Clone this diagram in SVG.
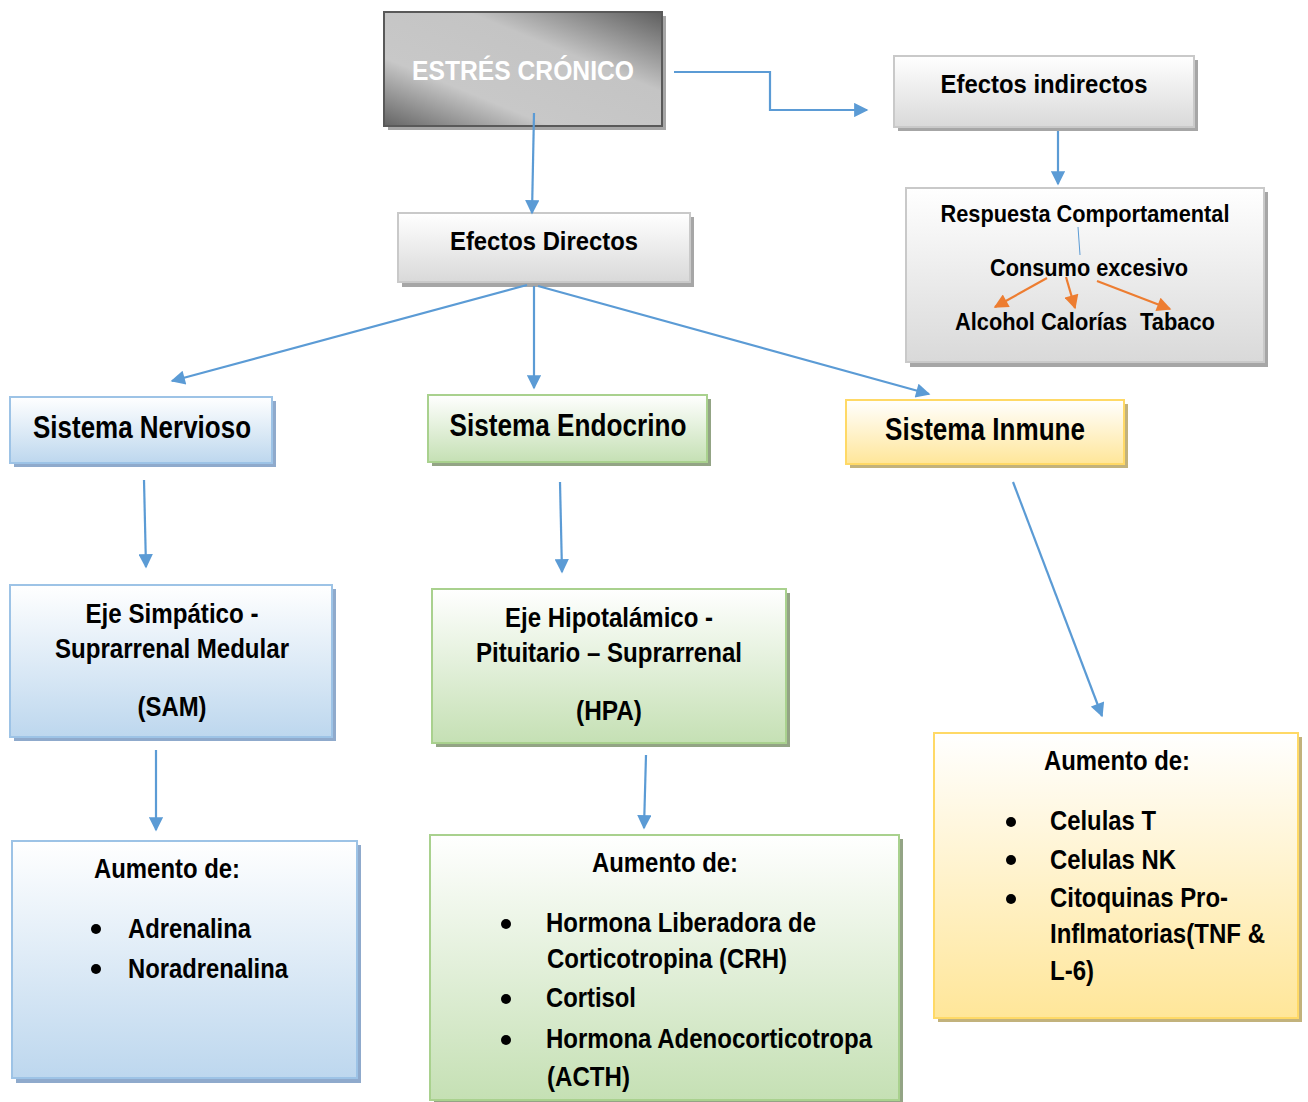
<svg xmlns="http://www.w3.org/2000/svg" width="1308" height="1102" viewBox="0 0 1308 1102">
<defs>
<linearGradient id="gDark" x1="1" y1="0" x2="0" y2="1">
<stop offset="0" stop-color="#5e5e5e"/><stop offset="0.35" stop-color="#c4c4c4"/><stop offset="0.7" stop-color="#c8c8c8"/><stop offset="1" stop-color="#646464"/>
</linearGradient>
<linearGradient id="gGray" x1="0" y1="0" x2="0" y2="1"><stop offset="0" stop-color="#ffffff"/><stop offset="1" stop-color="#d9d9d9"/></linearGradient>
<linearGradient id="gBlue" x1="0" y1="0" x2="0" y2="1"><stop offset="0" stop-color="#ffffff"/><stop offset="1" stop-color="#bdd7ee"/></linearGradient>
<linearGradient id="gGreen" x1="0" y1="0" x2="0" y2="1"><stop offset="0" stop-color="#ffffff"/><stop offset="1" stop-color="#c5e0b4"/></linearGradient>
<linearGradient id="gYellow" x1="0" y1="0" x2="0" y2="1"><stop offset="0" stop-color="#ffffff"/><stop offset="1" stop-color="#ffe699"/></linearGradient>
<marker id="ab" viewBox="0 0 10 10" refX="9" refY="5" markerWidth="7" markerHeight="6.5" orient="auto" markerUnits="strokeWidth"><path d="M0,0 L10,5 L0,10 z" fill="#5b9bd5"/></marker>
<marker id="ao" viewBox="0 0 10 10" refX="9" refY="5" markerWidth="7" markerHeight="6.5" orient="auto" markerUnits="strokeWidth"><path d="M0,0 L10,5 L0,10 z" fill="#ed7d31"/></marker>
<style>
text{font-family:"Liberation Sans","Arial",sans-serif;font-weight:bold;fill:#000}
.c{text-anchor:middle}
.b{stroke-width:2}
.sh{stroke:none}
.conn{fill:none;stroke:#5b9bd5;stroke-width:2.2;marker-end:url(#ab)}
.oc{fill:none;stroke:#ed7d31;stroke-width:2.2;marker-end:url(#ao)}
.t28{font-size:31px}
.t26{font-size:27px}
.t24{font-size:26px}
.t22{font-size:24px}
</style>
</defs>
<rect width="1308" height="1102" fill="#fff"/>

<g id="estres">
<rect x="388" y="16" width="278" height="114" fill="#a6a6a6" class="sh"/>
<rect x="384" y="12" width="278" height="114" fill="url(#gDark)" stroke="#595959" class="b"/>
<text x="523" y="80" class="c t26" style="fill:#fff" textLength="222" lengthAdjust="spacingAndGlyphs">ESTRÉS CRÓNICO</text>
</g>

<g id="indirectos">
<rect x="898" y="60" width="300" height="71" fill="#a6a6a6" class="sh"/>
<rect x="894" y="56" width="300" height="71" fill="url(#gGray)" stroke="#c9c9c9" class="b"/>
<text x="1044" y="93" class="c t24" textLength="207" lengthAdjust="spacingAndGlyphs">Efectos indirectos</text>
</g>

<g id="respuesta">
<rect x="910" y="192" width="358" height="175" fill="#a6a6a6" class="sh"/>
<rect x="906" y="188" width="358" height="174" fill="url(#gGray)" stroke="#c9c9c9" class="b"/>
<text x="1085" y="222" class="c t22" textLength="289" lengthAdjust="spacingAndGlyphs">Respuesta Comportamental</text>
<text x="1089" y="276" class="c t22" textLength="198" lengthAdjust="spacingAndGlyphs">Consumo excesivo</text>
<text x="955" y="330" class="t22" textLength="172" lengthAdjust="spacingAndGlyphs">Alcohol Calorías</text>
<text x="1140" y="330" class="t22" textLength="75" lengthAdjust="spacingAndGlyphs">Tabaco</text>
<line x1="1078" y1="227" x2="1080" y2="255" stroke="#5b9bd5" stroke-width="1"/>
<line x1="1047" y1="278" x2="995" y2="307" class="oc"/>
<line x1="1066" y1="277" x2="1075" y2="308" class="oc"/>
<line x1="1097" y1="281" x2="1170" y2="309" class="oc"/>
</g>

<g id="directos">
<rect x="402" y="217" width="292" height="70" fill="#a6a6a6" class="sh"/>
<rect x="398" y="213" width="292" height="69" fill="url(#gGray)" stroke="#c9c9c9" class="b"/>
<text x="544" y="250" class="c t24" textLength="188" lengthAdjust="spacingAndGlyphs">Efectos Directos</text>
</g>

<g id="nervioso">
<rect x="14" y="401" width="262" height="66" fill="#8faacc" class="sh"/>
<rect x="10" y="397" width="262" height="66" fill="url(#gBlue)" stroke="#9dc3e6" class="b"/>
<text x="142" y="438" class="c t28" textLength="218" lengthAdjust="spacingAndGlyphs">Sistema Nervioso</text>
</g>

<g id="endocrino">
<rect x="432" y="399" width="279" height="67" fill="#93a485" class="sh"/>
<rect x="428" y="395" width="279" height="67" fill="url(#gGreen)" stroke="#a9d18e" class="b"/>
<text x="568" y="436" class="c t28" textLength="237" lengthAdjust="spacingAndGlyphs">Sistema Endocrino</text>
</g>

<g id="inmune">
<rect x="850" y="404" width="278" height="64" fill="#c2b27c" class="sh"/>
<rect x="846" y="400" width="278" height="64" fill="url(#gYellow)" stroke="#ffd966" class="b"/>
<text x="985" y="440" class="c t28" textLength="200" lengthAdjust="spacingAndGlyphs">Sistema Inmune</text>
</g>

<g id="sam">
<rect x="14" y="589" width="322" height="152" fill="#8faacc" class="sh"/>
<rect x="10" y="585" width="322" height="152" fill="url(#gBlue)" stroke="#9dc3e6" class="b"/>
<text x="172" y="623" class="c t26" textLength="173" lengthAdjust="spacingAndGlyphs">Eje Simpático -</text>
<text x="172" y="658" class="c t26" textLength="234" lengthAdjust="spacingAndGlyphs">Suprarrenal Medular</text>
<text x="172" y="716" class="c t26" textLength="69" lengthAdjust="spacingAndGlyphs">(SAM)</text>
</g>

<g id="hpa">
<rect x="436" y="593" width="354" height="154" fill="#93a485" class="sh"/>
<rect x="432" y="589" width="354" height="154" fill="url(#gGreen)" stroke="#a9d18e" class="b"/>
<text x="609" y="627" class="c t26" textLength="208" lengthAdjust="spacingAndGlyphs">Eje Hipotalámico -</text>
<text x="609" y="662" class="c t26" textLength="266" lengthAdjust="spacingAndGlyphs">Pituitario – Suprarrenal</text>
<text x="609" y="720" class="c t26" textLength="66" lengthAdjust="spacingAndGlyphs">(HPA)</text>
</g>

<g id="aumento-sam">
<rect x="16" y="845" width="345" height="238" fill="#8faacc" class="sh"/>
<rect x="12" y="841" width="345" height="237" fill="url(#gBlue)" stroke="#9dc3e6" class="b"/>
<text x="94" y="878" class="t26" textLength="146" lengthAdjust="spacingAndGlyphs">Aumento de:</text>
<circle cx="96" cy="929" r="5"/><text x="128" y="938" class="t26" textLength="123" lengthAdjust="spacingAndGlyphs">Adrenalina</text>
<circle cx="96" cy="969" r="5"/><text x="128" y="978" class="t26" textLength="160" lengthAdjust="spacingAndGlyphs">Noradrenalina</text>
</g>

<g id="aumento-hpa">
<rect x="434" y="839" width="469" height="263" fill="#93a485" class="sh"/>
<rect x="430" y="835" width="469" height="265" fill="url(#gGreen)" stroke="#a9d18e" class="b"/>
<text x="592" y="872" class="t26" textLength="146" lengthAdjust="spacingAndGlyphs">Aumento de:</text>
<circle cx="506" cy="924" r="5"/><text x="546" y="932" class="t26" textLength="270" lengthAdjust="spacingAndGlyphs">Hormona Liberadora de</text>
<text x="547" y="968" class="t26" textLength="240" lengthAdjust="spacingAndGlyphs">Corticotropina (CRH)</text>
<circle cx="506" cy="999" r="5"/><text x="546" y="1007" class="t26" textLength="90" lengthAdjust="spacingAndGlyphs">Cortisol</text>
<circle cx="506" cy="1040" r="5"/><text x="546" y="1048" class="t26" textLength="326" lengthAdjust="spacingAndGlyphs">Hormona Adenocorticotropa</text>
<text x="547" y="1086" class="t26" textLength="83" lengthAdjust="spacingAndGlyphs">(ACTH)</text>
</g>

<g id="aumento-inmune">
<rect x="938" y="737" width="364" height="285" fill="#c2b27c" class="sh"/>
<rect x="934" y="733" width="364" height="285" fill="url(#gYellow)" stroke="#ffd966" class="b"/>
<text x="1044" y="770" class="t26" textLength="146" lengthAdjust="spacingAndGlyphs">Aumento de:</text>
<circle cx="1011" cy="822" r="5"/><text x="1050" y="830" class="t26" textLength="106" lengthAdjust="spacingAndGlyphs">Celulas T</text>
<circle cx="1011" cy="860" r="5"/><text x="1050" y="869" class="t26" textLength="126" lengthAdjust="spacingAndGlyphs">Celulas NK</text>
<circle cx="1011" cy="899" r="5"/><text x="1050" y="907" class="t26" textLength="178" lengthAdjust="spacingAndGlyphs">Citoquinas Pro-</text>
<text x="1050" y="943" class="t26" textLength="215" lengthAdjust="spacingAndGlyphs">Inflmatorias(TNF &amp;</text>
<text x="1050" y="980" class="t26" textLength="44" lengthAdjust="spacingAndGlyphs">L-6)</text>
</g>

<g id="connectors">
<path d="M674,72 H770 V110 H867" class="conn"/>
<path d="M1058,131 V184" class="conn"/>
<path d="M534,113 L532,213" class="conn"/>
<path d="M527,285 L172,381" class="conn"/>
<path d="M534,286 L534,388" class="conn"/>
<path d="M538,286 L929,394" class="conn"/>
<path d="M144,480 L146,567" class="conn"/>
<path d="M560,482 L562,572" class="conn"/>
<path d="M1013,482 L1102,716" class="conn"/>
<path d="M156,750 L156,830" class="conn"/>
<path d="M646,755 L644,828" class="conn"/>
</g>
</svg>
